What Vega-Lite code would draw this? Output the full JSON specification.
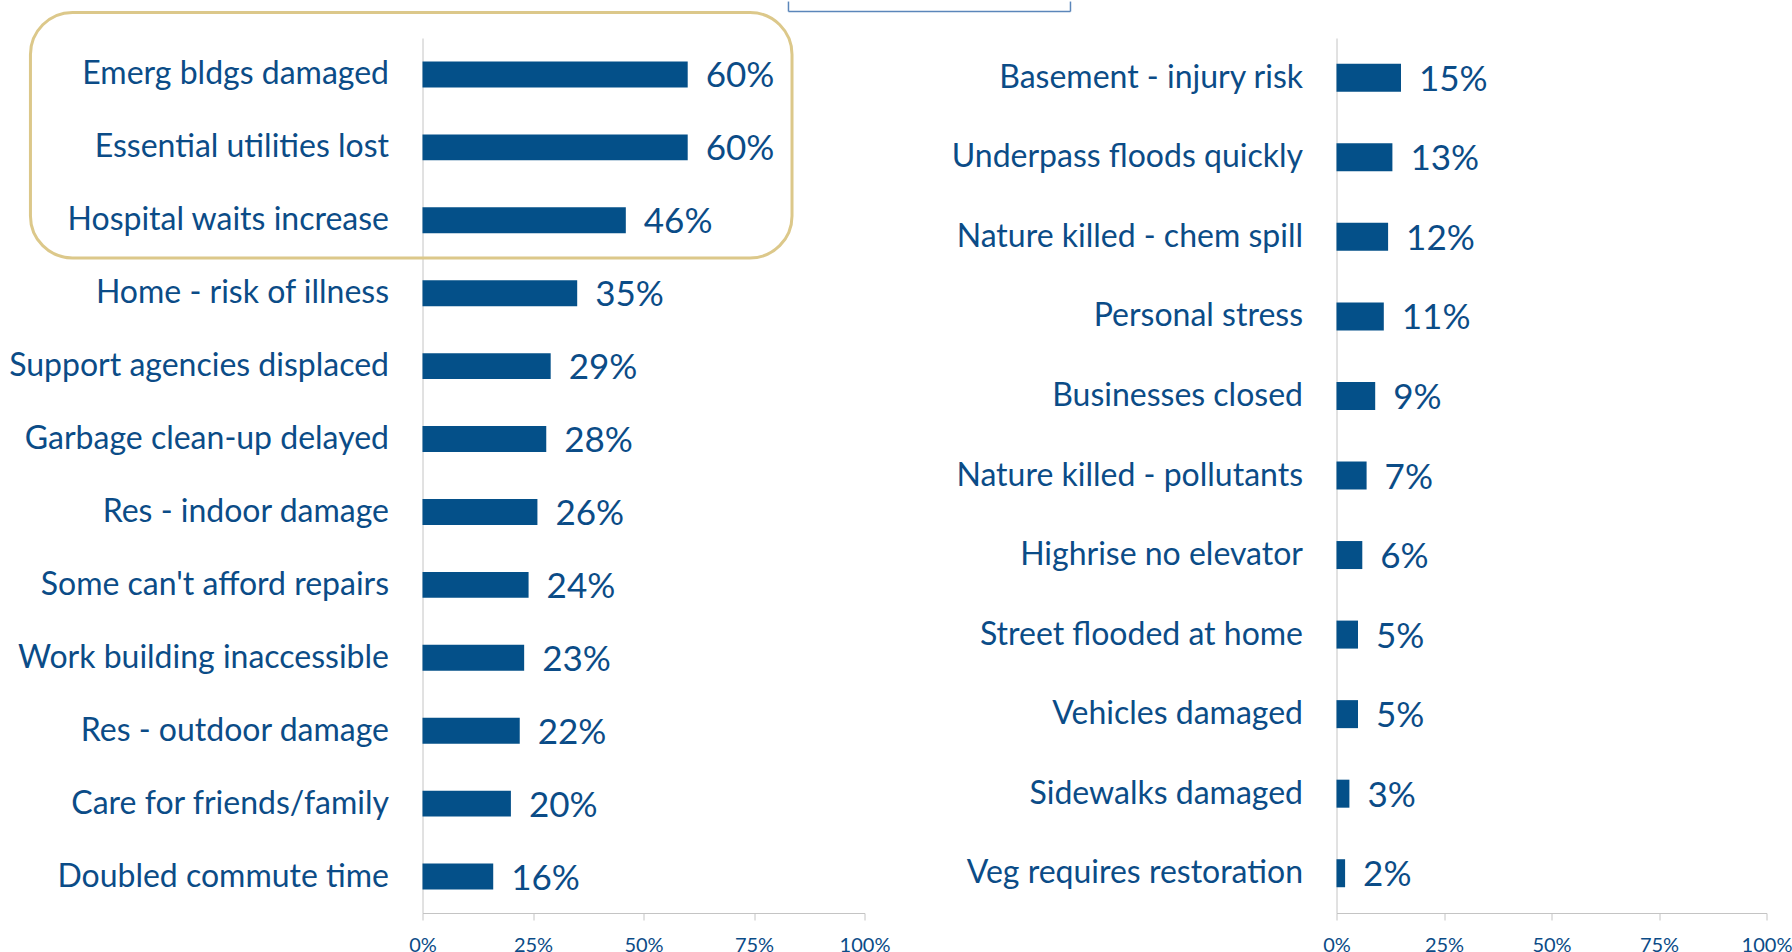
{
  "$schema": "https://vega.github.io/schema/vega-lite/v6.json",
  "padding": {"left": 8.5, "top": 0, "right": 0, "bottom": 0},
  "background": "white",
  "bounds": "flush",
  "spacing": 472,
  "config": {
    "view": {"stroke": null},
    "font": "Lato",
    "axisY": {"labelFontSize": 32, "labelColor": "#0B4C87", "labelPadding": 34, "ticks": false, "domainColor": "#C4C4C4", "domainWidth": 1, "title": null, "labelLimit": 1000},
    "axisX": {"labelFontSize": 20, "labelColor": "#0B4C87", "tickColor": "#C4C4C4", "tickSize": 7, "domainColor": "#C4C4C4", "grid": false, "title": null, "labelPadding": 15, "labelFlush": false}
  },
  "hconcat": [
    {
      "width": 442,
      "height": 875,
      "data": {"values": [
        {"item": "Emerg bldgs damaged", "pct": 0.60},
        {"item": "Essential utilities lost", "pct": 0.60},
        {"item": "Hospital waits increase", "pct": 0.46},
        {"item": "Home - risk of illness", "pct": 0.35},
        {"item": "Support agencies displaced", "pct": 0.29},
        {"item": "Garbage clean-up delayed", "pct": 0.28},
        {"item": "Res - indoor damage\u00a0", "pct": 0.26},
        {"item": "Some can't afford repairs", "pct": 0.24},
        {"item": "Work building inaccessible", "pct": 0.23},
        {"item": "Res - outdoor damage\u00a0", "pct": 0.22},
        {"item": "Care for friends/family", "pct": 0.20},
        {"item": "Doubled commute time", "pct": 0.16}
      ]},
      "layer": [
        {
          "layer": [
            {
              "mark": {"type": "bar", "color": "#045089"},
              "encoding": {
                "y": {"field": "item", "type": "nominal", "sort": null, "scale": {"paddingInner": 0.645}},
                "x": {"field": "pct", "type": "quantitative", "scale": {"domain": [0, 1], "nice": false}, "axis": {"format": ".0%", "values": [0, 0.25, 0.5, 0.75, 1]}}
              }
            },
            {
              "mark": {"type": "text", "align": "left", "baseline": "middle", "dx": 18, "dy": 2, "fontSize": 35, "color": "#0B4C87"},
              "encoding": {
                "y": {"field": "item", "type": "nominal", "sort": null},
                "x": {"field": "pct", "type": "quantitative"},
                "text": {"field": "pct", "format": ".0%"}
              }
            }
          ]
        },
        {
          "layer": [
            {
              "data": {"values": [{}]},
              "mark": {"type": "rect", "fillOpacity": 0, "stroke": "#DCC88A", "strokeWidth": 3, "cornerRadius": 42},
              "encoding": {
                "x": {"datum": -0.887, "type": "quantitative"},
                "x2": {"datum": 0.836},
                "y": {"datum": -0.35, "type": "quantitative", "scale": {"domain": [0, 12], "reverse": true, "nice": false, "zero": false}, "axis": null},
                "y2": {"datum": 3.017}
              }
            },
            {
              "data": {"values": [{}]},
              "mark": {"type": "rule", "stroke": "#5B86BA", "strokeWidth": 1.5},
              "encoding": {
                "x": {"datum": 0.828, "type": "quantitative"},
                "y": {"datum": -0.5, "type": "quantitative"},
                "y2": {"datum": -0.363}
              }
            },
            {
              "data": {"values": [{}]},
              "mark": {"type": "rule", "stroke": "#5B86BA", "strokeWidth": 1.5},
              "encoding": {
                "x": {"datum": 1.466, "type": "quantitative"},
                "y": {"datum": -0.5, "type": "quantitative"},
                "y2": {"datum": -0.363}
              }
            },
            {
              "data": {"values": [{}]},
              "mark": {"type": "rule", "stroke": "#5B86BA", "strokeWidth": 1.5},
              "encoding": {
                "x": {"datum": 0.828, "type": "quantitative"},
                "x2": {"datum": 1.466},
                "y": {"datum": -0.363, "type": "quantitative"}
              }
            }
          ]
        }
      ],
      "resolve": {"scale": {"y": "independent"}, "axis": {"y": "independent"}}
    },
    {
      "width": 430,
      "height": 875,
      "data": {"values": [
        {"item": "Basement - injury risk", "pct": 0.15},
        {"item": "Underpass floods quickly", "pct": 0.13},
        {"item": "Nature killed - chem spill", "pct": 0.12},
        {"item": "Personal stress", "pct": 0.11},
        {"item": "Businesses closed", "pct": 0.09},
        {"item": "Nature killed - pollutants", "pct": 0.07},
        {"item": "Highrise no elevator", "pct": 0.06},
        {"item": "Street flooded at home", "pct": 0.05},
        {"item": "Vehicles damaged", "pct": 0.05},
        {"item": "Sidewalks damaged", "pct": 0.03},
        {"item": "Veg requires restoration", "pct": 0.02}
      ]},
      "layer": [
        {
          "mark": {"type": "bar", "color": "#045089"},
          "encoding": {
            "y": {"field": "item", "type": "nominal", "sort": null, "scale": {"paddingInner": 0.648}},
            "x": {"field": "pct", "type": "quantitative", "scale": {"domain": [0, 1], "nice": false}, "axis": {"format": ".0%", "values": [0, 0.25, 0.5, 0.75, 1]}}
          }
        },
        {
          "mark": {"type": "text", "align": "left", "baseline": "middle", "dx": 18, "dy": 2, "fontSize": 35, "color": "#0B4C87"},
          "encoding": {
            "y": {"field": "item", "type": "nominal", "sort": null},
            "x": {"field": "pct", "type": "quantitative"},
            "text": {"field": "pct", "format": ".0%"}
          }
        }
      ]
    }
  ]
}
